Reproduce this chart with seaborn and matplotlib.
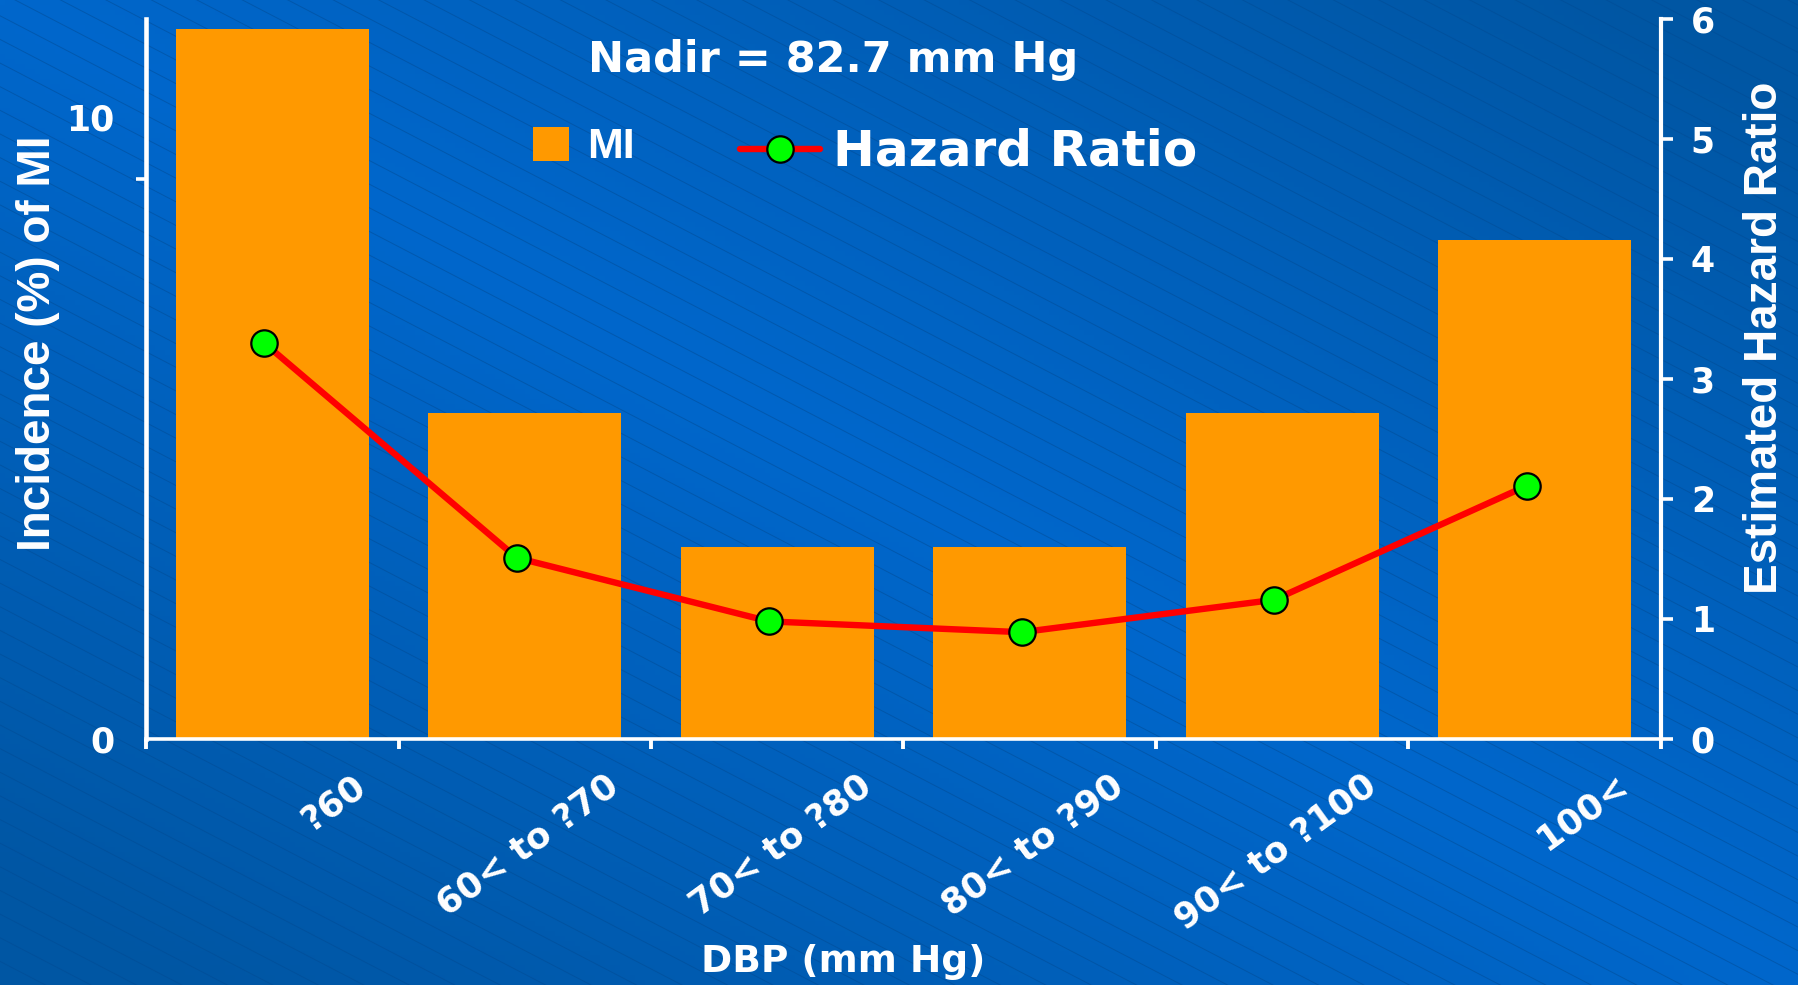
import numpy as np
import pandas as pd
import matplotlib
matplotlib.use("Agg")
import matplotlib.pyplot as plt
import seaborn as sns
from matplotlib.transforms import ScaledTranslation, offset_copy
from matplotlib.patches import Patch
from matplotlib.lines import Line2D
from matplotlib.ticker import FixedLocator

# ---------------- data ----------------
categories = ["?60", "60< to ?70", "70< to ?80", "80< to ?90", "90< to ?100", "100<"]
mi_incidence = [11.42, 5.24, 3.09, 3.09, 5.24, 8.03]
hazard_ratio = [3.30, 1.51, 0.98, 0.89, 1.16, 2.11]
left_ticks = [0, 10]
left_tick_labels = ["0", "10"]
left_minor_ticks = [0, 9]
right_ticks = [0, 1, 2, 3, 4, 5, 6]
nadir_text = "Nadir = 82.7 mm Hg"

# ---------------- style ----------------
sns.set_theme(style="white")
plt.rcParams["font.family"] = ["DejaVu Sans"]
plt.rcParams["font.weight"] = "bold"

W, H = 1799, 985
fig = plt.figure(figsize=(W / 100, H / 100), dpi=100)

# background gradient with faint diagonal lines
bg = fig.add_axes([0, 0, 1, 1], zorder=-10)
xs = np.linspace(0, 1, 360)
ys = np.linspace(0, 1, 200)
X, Y = np.meshgrid(xs, ys)
d = np.clip(np.abs(X - Y) * 1.1, 0, 1)
bright = np.array([0x00, 0x67, 0xCC]) / 255
dark = np.array([0x00, 0x56, 0xA3]) / 255
img = bright[None, None, :] * (1 - d[..., None]) + dark[None, None, :] * d[..., None]
bg.imshow(img, extent=[0, 1, 0, 1], origin="upper", aspect="auto")
slope = 0.52 * W / H
for c in np.arange(0, 2.2, 0.024):
    bg.plot([0, 1], [c, c - slope], color="#004A92", lw=0.7, alpha=0.5)
bg.set_xlim(0, 1)
bg.set_ylim(0, 1)
bg.axis("off")

df = pd.DataFrame({"dbp": categories, "mi": mi_incidence, "hr": hazard_ratio})

# ---------------- main axes ----------------
ax = fig.add_axes([146 / W, 1 - 739 / H, 1515 / W, 720 / H])
ax.patch.set_alpha(0)
sns.barplot(data=df, x="dbp", y="mi", color="#FF9900", saturation=1,
            width=0.764, linewidth=0, ax=ax, zorder=2)
ax.set_xlim(-0.5, 5.5)
ax.set_ylim(0, 11.58)

for s in ["top", "right"]:
    ax.spines[s].set_visible(False)
ax.spines["left"].set_color("white")
ax.spines["left"].set_linewidth(3.3)
ax.spines["bottom"].set_color("white")
ax.spines["bottom"].set_linewidth(2.6)
ax.spines["bottom"].set_zorder(3)

ax.set_yticks(left_ticks)
ax.set_yticklabels(left_tick_labels)
ax.yaxis.set_minor_locator(FixedLocator(left_minor_ticks))
ax.tick_params(axis="y", which="major", length=0, pad=23, labelsize=25,
               labelcolor="white", left=True)
ax.tick_params(axis="y", which="minor", length=7, width=2.6, color="white",
               direction="out", left=True)

ax.set_xticks(range(len(categories)))
ax.xaxis.set_minor_locator(FixedLocator(np.arange(-0.5, len(categories), 1.0)))
ax.tick_params(axis="x", which="major", length=0, pad=31, labelsize=25.5,
               labelcolor="white", bottom=True)
ax.tick_params(axis="x", which="minor", length=7, width=2.8, color="white",
               direction="out", bottom=True)
ax.set_xticklabels(categories, rotation=36, ha="right", va="center",
                   rotation_mode="anchor", fontweight="bold")
for lab in ax.get_xticklabels():
    lab.set_transform(lab.get_transform() + ScaledTranslation(0.90, 0, fig.dpi_scale_trans))

ax.set_xlabel("DBP (mm Hg)", color="white", fontsize=27, fontweight="bold", va="center")
ax.xaxis.set_label_coords((843 - 146) / 1515, (739 - 962) / 720)
ax.set_ylabel("Incidence (%) of MI", color="white", fontsize=33, fontweight="bold",
              va="center", family="Liberation Sans")
ax.yaxis.set_label_coords((38 - 146) / 1515, (739 - 343) / 720)
ax.grid(False)

# ---------------- twin axis: hazard ratio ----------------
ax2 = ax.twinx()
ax2.patch.set_alpha(0)
sns.lineplot(data=df, x="dbp", y="hr", ax=ax2, color="#FF0000", lw=4.6,
             marker="o", markersize=19, markerfacecolor="#00FF00",
             markeredgecolor="black", markeredgewidth=1.6, sort=False, zorder=5)
for ln in ax2.lines:
    ln.set_transform(offset_copy(ax2.transData, fig=fig, x=-8, y=0, units="dots"))
ax2.set_xlim(-0.5, 5.5)
ax2.set_ylim(0, 6)
for s in ["top", "left", "bottom"]:
    ax2.spines[s].set_visible(False)
ax2.spines["right"].set_color("white")
ax2.spines["right"].set_linewidth(3.0)
ax2.set_yticks(right_ticks)
ax2.tick_params(axis="y", which="major", length=8.5, width=2.6, color="white",
                direction="out", pad=13, labelsize=25, labelcolor="white", right=True)
ax2.set_ylabel("Estimated Hazard Ratio", color="white", fontsize=33, fontweight="bold",
               va="center", family="Liberation Sans", rotation=90)
ax2.yaxis.set_label_coords((1765 - 146) / 1515, (739 - 338) / 720)
ax2.grid(False)
ax2.set_xlabel("")

# ---------------- legends & annotation ----------------
leg1 = fig.legend(handles=[Patch(facecolor="#FF9900", edgecolor="none", label="MI")],
                  loc="center left", bbox_to_anchor=(533 / W, 1 - 147 / H),
                  frameon=False, borderpad=0, borderaxespad=0,
                  handlelength=0.84, handleheight=0.84, handletextpad=0.42,
                  prop=dict(family="Liberation Sans", weight="bold", size=31),
                  labelcolor="white")
leg2 = fig.legend(handles=[Line2D([], [], color="#FF0000", lw=4.6, marker="o", markersize=19,
                                  markerfacecolor="#00FF00", markeredgecolor="black",
                                  markeredgewidth=1.6, label="Hazard Ratio")],
                  loc="center left", bbox_to_anchor=(740 / W, 1 - 152 / H),
                  frameon=False, borderpad=0, borderaxespad=0, numpoints=1,
                  handlelength=1.6, handletextpad=0.26,
                  prop=dict(family="DejaVu Sans", weight="bold", size=36),
                  labelcolor="white")

fig.text(833 / W, 1 - 72 / H, nadir_text, ha="center", va="baseline",
         color="white", fontsize=31, fontweight="bold")

fig.savefig("out.png", dpi=100)
